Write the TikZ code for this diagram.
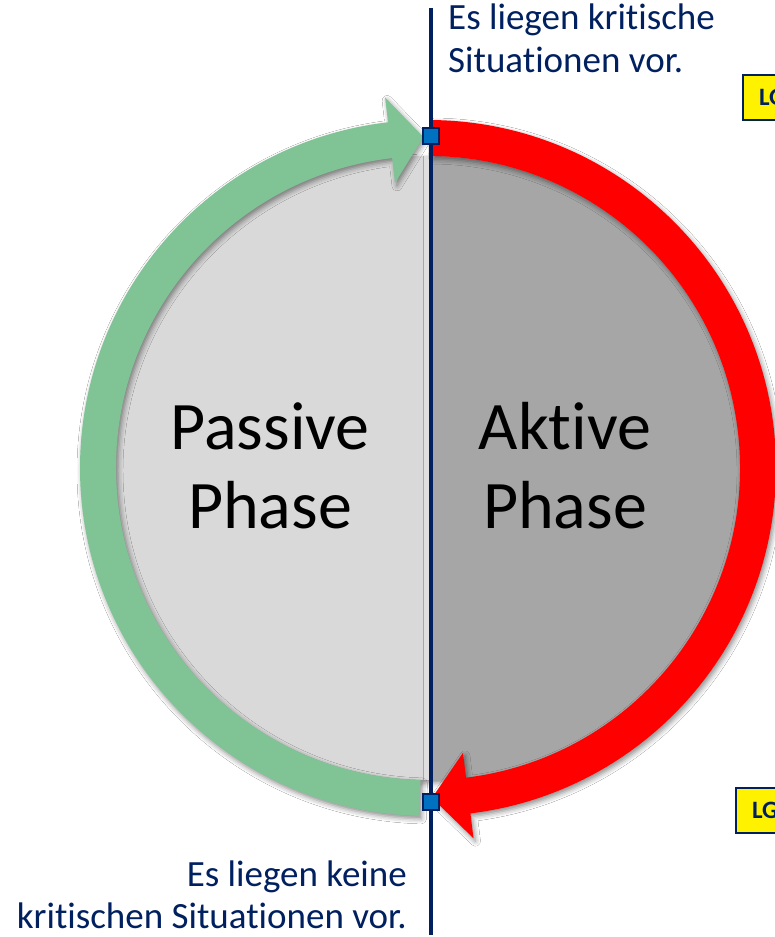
\documentclass[tikz,border=0pt]{standalone}
\usepackage{fontspec}
\setmainfont{Carlito}[Ligatures={NoCommon,NoContextual}]
\usetikzlibrary{calc,shadows.blur}
\definecolor{navy}{HTML}{002060}
\definecolor{sqblue}{HTML}{0070C0}
\definecolor{lgray}{HTML}{D9D9D9}
\definecolor{dgray}{HTML}{A6A6A6}
\definecolor{agreen}{RGB}{128,196,150}
\definecolor{ared}{HTML}{FF0000}
\begin{document}
\begin{tikzpicture}[x=1pt,y=1pt,
  smalltxt/.style={font=\fontsize{37}{43}\selectfont, text=navy, inner sep=0pt},
  bigtxt/.style={font=\fontsize{68}{80}\selectfont, text=black, inner sep=0pt, anchor=base},
  sqmark/.style={draw=navy, fill=sqblue, line width=2pt, minimum size=16pt, inner sep=0pt},
  lgbox/.style={draw=navy, line width=2pt, fill=yellow, text=navy,
    font=\bfseries\fontsize{25}{25}\selectfont, minimum height=45pt, inner xsep=16pt,
    text width=60pt, align=left, anchor=north west},
  shad/.style={blur shadow={shadow xshift=2pt, shadow yshift=-3pt, shadow blur radius=5pt, shadow opacity=45}},
  arrowshape/.style={shad}
]
\useasboundingbox (0,0) rectangle (775,937);
\fill[white] (0,0) rectangle (775,937);
\coordinate (C) at (428,469);

% disc
\path[shad] (C) circle (312);
\begin{scope}
  \clip (C) circle (312);
  \fill[lgray] ($(C)+(-320,-320)$) rectangle ($(C)+(0,320)$);
  \fill[dgray] ($(C)+(0,-320)$) rectangle ($(C)+(320,320)$);
  \fill[gray!25] ($(C)+(-5,-320)$) rectangle ($(C)+(2,320)$);
  \draw[gray!70, line width=1pt] ($(C)+(-5,-320)$) -- ($(C)+(-5,320)$);
  \draw[gray!80, line width=1pt] ($(C)+(2,-320)$) -- ($(C)+(2,320)$);
\end{scope}

% green arrow (passive)
\fill[agreen, arrowshape]
  ($(C)+(268.6:348)$) arc[start angle=268.6, end angle=96.6, radius=348]
  -- ($(C)+(96.6:373)$) -- ($(C)+(90.8:331)$) -- ($(C)+(96.6:287)$)
  -- ($(C)+(96.6:312)$) arc[start angle=96.6, end angle=268.6, radius=312] -- cycle;

% red arrow (active)
\fill[ared, arrowshape]
  ($(C)+(89.3:348)$) arc[start angle=89.3, end angle=-83, radius=348]
  -- ($(C)+(-83:373)$) -- ($(C)+(-89.3:330)$) -- ($(C)+(-83:287)$)
  -- ($(C)+(-83:312)$) arc[start angle=-83, end angle=89.3, radius=312] -- cycle;

% vertical line and markers
\coordinate (vt) at (431,929);
\coordinate (vb) at (431,2);
\draw[navy, line width=3.5pt] (vt) -- (vb);
\node[sqmark] (s1) at (431,801) {};
\node[sqmark] (s2) at (431,135) {};

% texts
\node[smalltxt, anchor=base west] (t1) at (448,907) {Es liegen kritische};
\node[smalltxt, anchor=base west] (t2) at (448,864) {Situationen vor.};
\node[smalltxt, anchor=base east] (b1) at (407,50) {Es liegen keine};
\node[smalltxt, anchor=base east] (b2) at (407,9) {kritischen Situationen vor.};

\node[bigtxt] (p1) at (270,487) {Passive};
\node[bigtxt] (p2) at (270,408) {Phase};
\node[bigtxt] (a1) at (565,487) {Aktive};
\node[bigtxt] (a2) at (565,408) {Phase};

% LG boxes (cut at right edge, as in the reference)
\node[lgbox] (lg1) at (742,863) {LG};
\node[lgbox] (lg2) at (735,150) {LG};
\end{tikzpicture}
\end{document}
